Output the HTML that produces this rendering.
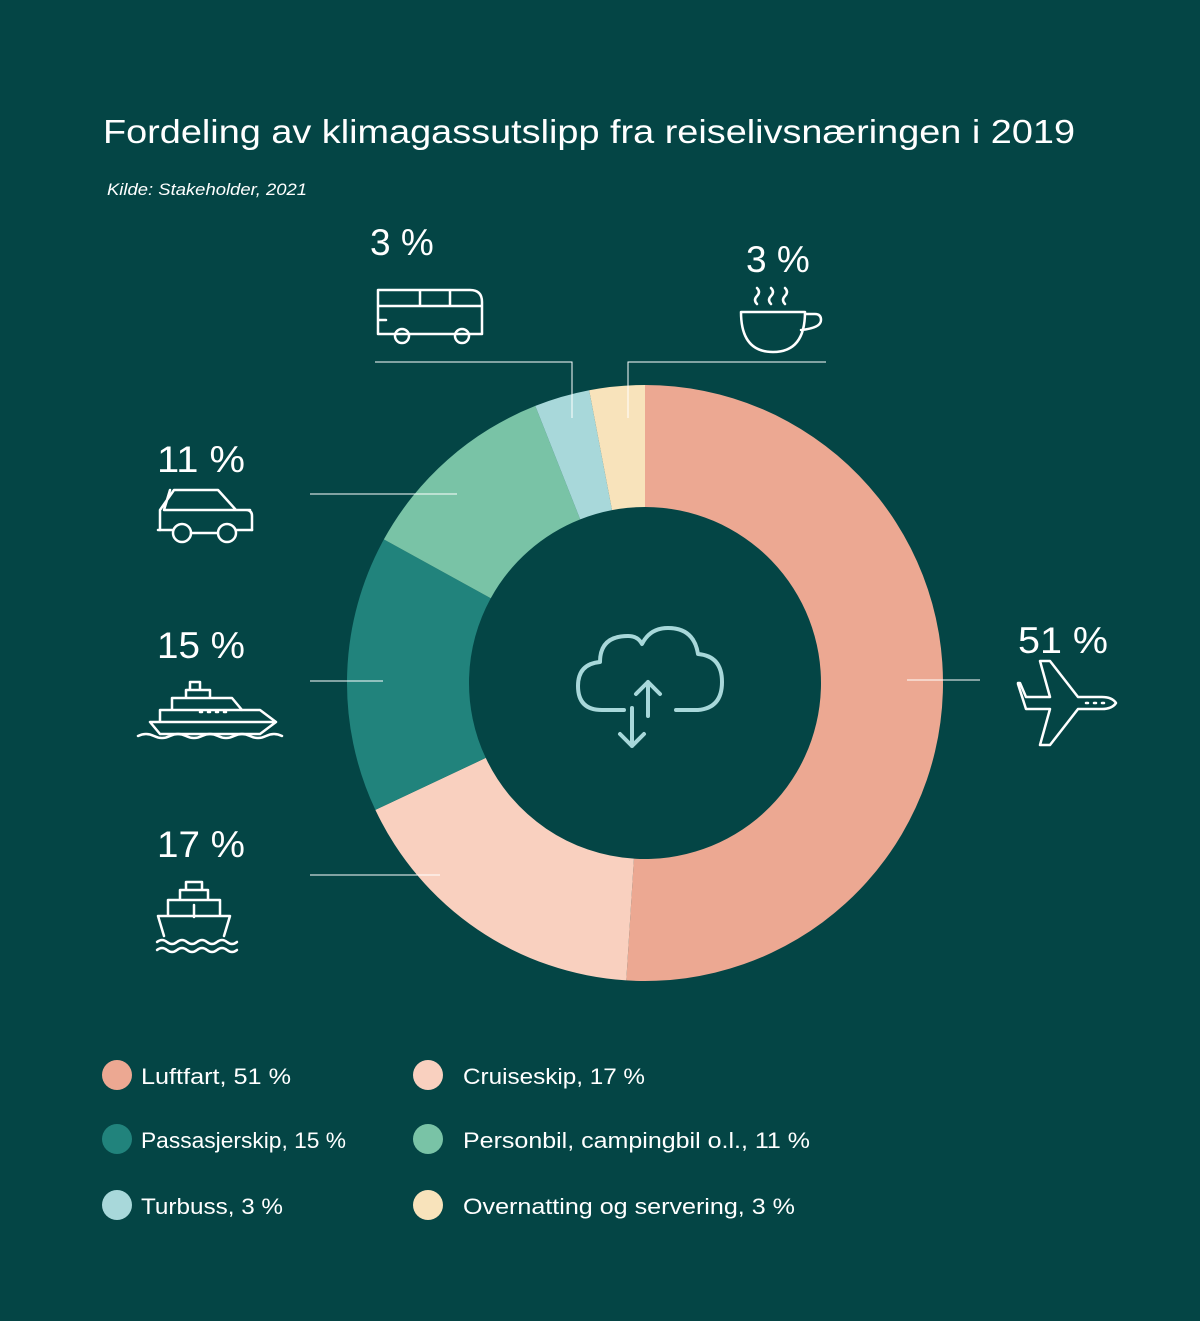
<!DOCTYPE html>
<html><head><meta charset="utf-8">
<style>
html,body{margin:0;padding:0;background:#044545;}
body{width:1200px;height:1321px;position:relative;overflow:hidden;font-family:"Liberation Sans",sans-serif;color:#fff;}
svg{position:absolute;left:0;top:0;}
</style></head>
<body>
<svg id="chart" width="1200" height="1321" viewBox="0 0 1200 1321">
<rect width="1200" height="1321" fill="#044545"/>
<text x="103" y="143" font-size="33" fill="#fff" textLength="972" lengthAdjust="spacingAndGlyphs">Fordeling av klimagassutslipp fra reiselivsnæringen i 2019</text>
<text x="107" y="195" font-size="17" font-style="italic" fill="#fff" textLength="200" lengthAdjust="spacingAndGlyphs">Kilde: Stakeholder, 2021</text>
<g id="slices"></g>
<g id="lines" stroke="#fff" stroke-width="1" fill="none">
<path d="M907 680H980"/>
<path d="M310 875H440"/>
<path d="M310 681H383"/>
<path d="M310 494H457"/>
<path d="M375 362H572V418"/>
<path d="M826 362H628V418"/>
</g>
<g font-size="37" fill="#fff">
<text x="1018" y="653" textLength="90" lengthAdjust="spacingAndGlyphs">51 %</text>
<text x="157" y="857" textLength="88" lengthAdjust="spacingAndGlyphs">17 %</text>
<text x="157" y="658" textLength="88" lengthAdjust="spacingAndGlyphs">15 %</text>
<text x="157" y="472" textLength="88" lengthAdjust="spacingAndGlyphs">11 %</text>
<text x="370" y="255">3 %</text>
<text x="746" y="272">3 %</text>
</g>
<g stroke="#fff" stroke-width="2.5" fill="none" stroke-linejoin="round" stroke-linecap="round">
<g><path d="M1018 684l8 25h24l-10 36h10l28-36h24q10 0 14-6q-4-6-14-6h-24l-28-36h-10l10 36h-24l-6-14h-2z"/><path d="M1086 703h2M1094 703h2M1102 703h2"/></g>
<g><path d="M164 936l-6-20h72l-6 20M168 916v-16h52v16M180 900v-10h28v10M186 890v-8h16v8M194 905v12"/><path d="M157 942q5-4 10 0t10 0t10 0t10 0t10 0t10 0t10 0t10 0M157 950q5-4 10 0t10 0t10 0t10 0t10 0t10 0t10 0t10 0"/></g>
<g><path d="M150 722h126l-16 12H160zM160 722v-12h100l16 12M172 710v-12h60l10 12M186 698v-8h24v8M190 690v-8h10v8"/><path d="M138 736q8-4 16 0t16 0t16 0t16 0t16 0t16 0t16 0t16 0t16 0"/><path d="M200 712h2M208 712h2M216 712h2M224 712h2"/></g>
<g><path d="M160 530v-20l14-20h44l18 20h10q6 0 6 6v14M170 490l-6 20h86"/><circle cx="182" cy="533" r="9"/><circle cx="227" cy="533" r="9"/><path d="M191 533h27M158 530h15M236 530h16"/></g>
<g><path d="M378 334v-44h92q12 0 12 12v32zM378 306h104M420 290v16M450 290v16M378 320h8"/><circle cx="402" cy="336" r="7"/><circle cx="462" cy="336" r="7"/></g>
<g><path d="M741 312h64q0 40-32 40t-32-40zM805 314h10q6 0 6 6q0 8-20 10"/><path d="M757 304q-4-4 0-8t0-8M771 304q-4-4 0-8t0-8M785 304q-4-4 0-8t0-8"/></g>
<g stroke="#a8d8da" stroke-width="4"><path d="M624 710h-22q-24 0-24-24q0-22 22-24q0-26 28-26q10 0 14 8q8-16 26-16q26 0 30 26q24 2 24 28q0 26-24 28h-22"/><path d="M648 716v-34M636 694l12-12l12 12M632 708v38M620 734l12 12l12-12"/></g>
</g>
<g font-size="22" fill="#fff">
<g><circle cx="117" cy="1075" r="15" fill="#eca892"/><text x="141" y="1084" textLength="150" lengthAdjust="spacingAndGlyphs">Luftfart, 51 %</text></g>
<g><circle cx="428" cy="1075" r="15" fill="#f9d0bf"/><text x="463" y="1084" textLength="182" lengthAdjust="spacingAndGlyphs">Cruiseskip, 17 %</text></g>
<g><circle cx="117" cy="1139" r="15" fill="#21837c"/><text x="141" y="1148" textLength="205" lengthAdjust="spacingAndGlyphs">Passasjerskip, 15 %</text></g>
<g><circle cx="428" cy="1139" r="15" fill="#79c3a6"/><text x="463" y="1148" textLength="347" lengthAdjust="spacingAndGlyphs">Personbil, campingbil o.l., 11 %</text></g>
<g><circle cx="117" cy="1205" r="15" fill="#a8d8da"/><text x="141" y="1214" textLength="142" lengthAdjust="spacingAndGlyphs">Turbuss, 3 %</text></g>
<g><circle cx="428" cy="1205" r="15" fill="#f8e3bb"/><text x="463" y="1214" textLength="332" lengthAdjust="spacingAndGlyphs">Overnatting og servering, 3 %</text></g>
</g>
</svg>
<script>
const categories = ["Luftfart","Cruiseskip","Passasjerskip","Personbil","Turbuss","Overnatting"];
const values = [51,17,15,11,3,3];
const colors = ["#eca892","#f9d0bf","#21837c","#79c3a6","#a8d8da","#f8e3bb"];
const cx=645, cy=683, R=298, r=176;
const g=document.getElementById('slices');
const total=values.reduce((a,b)=>a+b,0);
function pt(a,rad){return [cx+rad*Math.sin(a), cy-rad*Math.cos(a)];}
let acc=0;
values.forEach((v,i)=>{
  const a0=acc/total*2*Math.PI; acc+=v; const a1=acc/total*2*Math.PI;
  const large=(a1-a0)>Math.PI?1:0;
  const [x0,y0]=pt(a0,R),[x1,y1]=pt(a1,R),[x2,y2]=pt(a1,r),[x3,y3]=pt(a0,r);
  const p=document.createElementNS('http://www.w3.org/2000/svg','path');
  p.setAttribute('d',`M${x0} ${y0}A${R} ${R} 0 ${large} 1 ${x1} ${y1}L${x2} ${y2}A${r} ${r} 0 ${large} 0 ${x3} ${y3}Z`);
  p.setAttribute('fill',colors[i]);
  
  
  g.appendChild(p);
});
</script>
</body></html>
